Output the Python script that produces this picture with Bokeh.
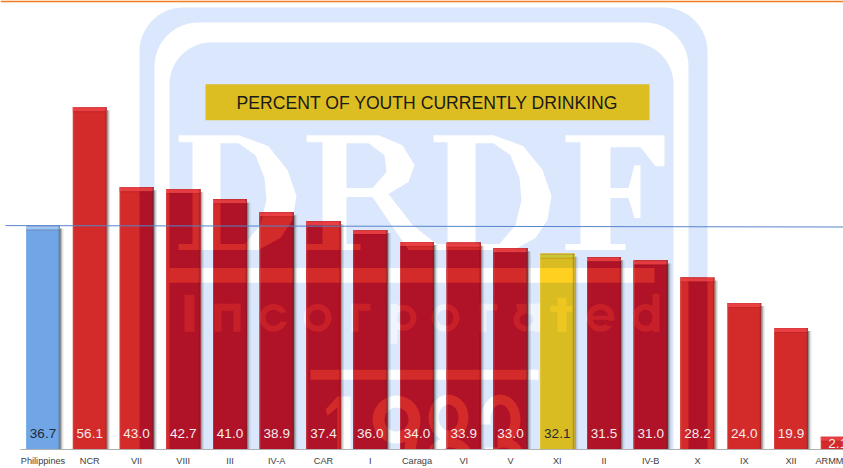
import numpy as np
from bokeh.plotting import figure
from bokeh.models import Range1d, FixedTicker, ColumnDataSource
from bokeh.core.properties import value
from bokeh.embed import file_html
from bokeh.resources import INLINE

# ---- data ----
regions = ["Philippines", "NCR", "VII", "VIII", "III", "IV-A", "CAR", "I", "Caraga",
           "VI", "V", "XI", "II", "IV-B", "X", "IX", "XII", "ARMM"]
percent = [36.7, 56.1, 43.0, 42.7, 41.0, 38.9, 37.4, 36.0, 34.0,
           33.9, 33.0, 32.1, 31.5, 31.0, 28.2, 24.0, 19.9, 2.1]
national = 36.7
title = "PERCENT OF YOUTH CURRENTLY DRINKING"

# ---- pixel <-> data helpers (used for decoration only) ----
W, H, BASE = 843, 468, 450
X0, DX, SY = 42.5, 46.75, 6.114
BAR_W = 34 / DX
def dx(px): return (np.asarray(px, float) - X0) / DX
def dy(py): return (BASE - np.asarray(py, float)) / SY

p = figure(width=W, height=H, output_backend="svg", toolbar_location=None,
           x_range=Range1d(dx(0), dx(W)), y_range=Range1d(0, BASE / SY),
           min_border_left=0, min_border_right=0, min_border_top=0, min_border_bottom=H - BASE,
           outline_line_color=None, background_fill_color="white", border_fill_color=None)
p.grid.visible = False
p.yaxis.visible = False
ax = p.xaxis[0]
ax.ticker = FixedTicker(ticks=list(range(len(regions))))
ax.major_label_overrides = {i: r for i, r in enumerate(regions)}
ax.major_tick_in = 0
ax.major_tick_out = 0
ax.minor_tick_in = 0
ax.minor_tick_out = 0
ax.axis_line_color = "#B0B0B0"
ax.axis_line_width = 1
ax.bounds = (float(dx(20)), float(dx(W)))
ax.major_label_standoff = 6
ax.major_label_text_font = "Liberation Sans"
ax.major_label_text_font_size = "9.2px"
ax.major_label_text_color = "#404040"

# ---- watermark geometry (pixel polygons) ----
def rrect(x0, y0, x1, y1, r):
    t = np.linspace(0, np.pi / 2, 14)
    pts = [(x0 + r - r * np.cos(a), y0 + r - r * np.sin(a)) for a in t]
    pts += [(x1 - r + r * np.sin(a), y0 + r - r * np.cos(a)) for a in t]
    pts += [(x1, y1), (x0, y1)]
    return pts
def rect(x0, y0, x1, y1): return [(x0, y0), (x1, y0), (x1, y1), (x0, y1)]
def ell(cx, cy, rx, ry):
    t = np.linspace(0, 2 * np.pi, 28, endpoint=False)
    return [(cx + rx * np.cos(a), cy + ry * np.sin(a)) for a in t]

B, Wh, So = "blue", "white", "soft"
layers = [(rrect(139, 7, 707, 490, 44), B), (rrect(154, 22, 688, 490, 44), Wh),
          (rrect(169, 42, 673, 490, 42), B)]
def big_d(s, ox=0):
    return [([(178+ox, 135), (238+ox, 135), (268+ox, 146), (287+ox, 170), (296+ox, 196), (292+ox, 220),
              (280+ox, 238), (258+ox, 250), (178+ox, 250), (178+ox, 244), (192+ox, 244), (192+ox, 142), (178+ox, 142)], Wh),
            ([(220+ox, 143), (238+ox, 143), (255+ox, 155), (264+ox, 178), (266+ox, 200), (260+ox, 225), (244+ox, 244), (220+ox, 244)], B)]
layers += big_d(0) + big_d(0, 255)
layers += [([(306, 135), (378, 135), (402, 145), (414, 165), (408, 182), (388, 194), (412, 225), (436, 244),
             (436, 250), (408, 250), (372, 197), (346, 197), (346, 244), (360, 244), (360, 250), (306, 250),
             (306, 244), (322, 244), (322, 142), (306, 142)], Wh),
           ([(346, 143), (368, 143), (384, 155), (386, 172), (372, 188), (346, 188)], B)]
layers += [([(565, 135), (664, 135), (664, 166), (655, 166), (640, 147), (610, 147), (610, 188), (628, 188), (634, 165),
             (640, 165), (640, 218), (634, 218), (628, 198), (610, 198), (610, 244), (625, 244), (625, 250), (565, 250),
             (565, 244), (580, 244), (580, 142), (565, 142)], Wh)]
layers += [(rect(168, 268, 654, 283), Wh), (rect(310, 370, 538, 380), Wh)]
# "Incorporated"
def ring(cx, cy, rx, ry, t): return [(ell(cx, cy, rx, ry), So), (ell(cx, cy, rx - t, ry - t), B)]
inc = [(rect(184, 295, 194, 332), So)]
inc += [(rect(214, 304, 221, 332), So), (rect(214, 304, 240, 311), So), (rect(233, 304, 240, 332), So)]
inc += ring(273, 318, 14, 14, 6) + [(rect(280, 313, 290, 322), B)]
inc += ring(317, 318, 14, 14, 6)
inc += [(rect(351, 304, 358, 332), So), (rect(351, 304, 370, 311), So)]
inc += ring(403, 318, 13, 13, 6) + [(rect(390, 304, 397, 344), So)]
inc += ring(445, 318, 14, 14, 6)
inc += [(rect(479, 304, 486, 332), So), (rect(479, 304, 497, 311), So)]
inc += ring(526, 320, 13, 12, 6) + [(rect(533, 304, 540, 332), So), (rect(516, 304, 540, 310), So)]
inc += [(rect(557, 298, 566, 332), So), (rect(550, 306, 572, 312), So)]
inc += ring(600, 318, 14, 14, 6) + [(rect(590, 316, 612, 320), So), (rect(606, 321, 616, 326), B)]
inc += ring(645, 318, 13, 14, 6) + [(rect(652, 294, 659, 332), So)]
layers += inc
# "1983"
def wring(cx, cy, rx, ry, t): return [(ell(cx, cy, rx, ry), Wh), (ell(cx, cy, rx - t, ry - t), B)]
year = [(rect(337, 397, 350, 458), Wh), ([(325, 410), (337, 397), (337, 408), (327, 416)], Wh), (rect(326, 455, 362, 462), Wh)]
year += wring(396, 420, 24, 24, 12) + [([(406, 428), (420, 422), (412, 468), (390, 468), (404, 450)], Wh)]
year += wring(448, 418, 20, 23, 10) + wring(449, 458, 23, 20, 10)
year += wring(500, 420, 20, 25, 10) + wring(503, 460, 21, 22, 10) + [(rect(478, 425, 497, 448), B), (rect(480, 452, 495, 470), B)]
layers += year

def clip(poly, x0, y0, x1, y1):
    """Sutherland-Hodgman clip of a pixel polygon against a rectangle."""
    def run(pts, inside, cross):
        out = []
        for i, a in enumerate(pts):
            b = pts[(i + 1) % len(pts)]
            if inside(a):
                out.append(a)
                if not inside(b): out.append(cross(a, b))
            elif inside(b):
                out.append(cross(a, b))
        return out
    def cx(v):
        return lambda a, b: (v, a[1] + (b[1] - a[1]) * (v - a[0]) / (b[0] - a[0]))
    def cy(v):
        return lambda a, b: (a[0] + (b[0] - a[0]) * (v - a[1]) / (b[1] - a[1]), v)
    pts = list(poly)
    for ins, cr in [(lambda q: q[0] >= x0, cx(x0)), (lambda q: q[0] <= x1, cx(x1)),
                    (lambda q: q[1] >= y0, cy(y0)), (lambda q: q[1] <= y1, cy(y1))]:
        if pts: pts = run(pts, ins, cr)
    return pts

# watermark on the page
WM = {B: "#DBE7FC", Wh: "#FFFFFF", So: "#F0F4FD"}
p.patches([list(dx([q[0] for q in l])) for l, _ in layers],
          [list(dy([q[1] for q in l])) for l, _ in layers],
          fill_color=[WM[k] for _, k in layers], line_color=None)

# ---- bars ----
xs = np.arange(len(regions), dtype=float)
vals = np.array(percent)
base_col = ["#70A6E6" if r == "Philippines" else "#FFD01F" if r == "XI" else "#D32A2A" for r in regions]
dark_col = ["#70A6E6" if r == "Philippines" else "#D9BC22" if r == "XI" else "#B01227" for r in regions]
soft_col = ["#70A6E6" if r == "Philippines" else "#EEC620" if r == "XI" else "#C82028" for r in regions]
bevel_col = ["#A4CDF6" if r == "Philippines" else "#C8C83A" if r == "XI" else "#EE4448" for r in regions]
px = 1 / DX
py = 1 / SY
# soft shadow right of each bar
for off, a in [(1.0, .45), (2.0, .3), (3.5, .15)]:
    p.quad(left=xs + BAR_W / 2, right=xs + BAR_W / 2 + off * px, bottom=0, top=vals - 3 * py,
           fill_color="#555555", fill_alpha=a, line_color=None)
p.vbar(x=xs, width=BAR_W, top=vals, bottom=0, fill_color=base_col, line_color=None)
# watermark seen through each bar
sx, sy, sc = [], [], []
for i, v in enumerate(vals):
    L, R = X0 + DX * i - 17, X0 + DX * i + 17
    T = BASE - v * SY
    for poly, k in layers:
        c = clip(poly, L, T, R, BASE)
        if len(c) >= 3:
            sx.append(list(dx([q[0] for q in c])))
            sy.append(list(dy([q[1] for q in c])))
            sc.append({B: dark_col[i], Wh: base_col[i], So: soft_col[i]}[k])
p.patches(sx, sy, fill_color=sc, line_color=None)
# bevels
p.quad(left=xs - BAR_W / 2, right=xs + BAR_W / 2, top=vals, bottom=vals - 4 * py,
       fill_color=bevel_col, fill_alpha=.85, line_color=None)
p.quad(left=xs - BAR_W / 2, right=xs + BAR_W / 2, top=vals, bottom=vals - 1 * py,
       fill_color="#A03030", fill_alpha=.25, line_color=None)
p.quad(left=xs - BAR_W / 2, right=xs + BAR_W / 2, top=vals - 4 * py, bottom=vals - 5 * py,
       fill_color="#701010", fill_alpha=.18, line_color=None)
p.quad(left=xs + BAR_W / 2 - 1.5 * px, right=xs + BAR_W / 2, top=vals, bottom=0,
       fill_color="#303030", fill_alpha=.28, line_color=None)
p.quad(left=xs - BAR_W / 2, right=xs - BAR_W / 2 + 1 * px, top=vals, bottom=0,
       fill_color="#FFFFFF", fill_alpha=.12, line_color=None)

# value labels
lab = ColumnDataSource(dict(x=xs, y=np.minimum(2.6, vals / 2),
                            t=[f"{v:.1f}" for v in percent],
                            c=["#1F2A3A" if r in ("Philippines", "XI") else "#F4ECEC" for r in regions]))
p.text("x", "y", text="t", source=lab, text_color="c", text_align="center", text_baseline="middle",
       text_font=value("Liberation Sans"), text_font_size="13.5px")

# national reference line
p.line([float(dx(5)), float(dx(W))], [national, national - 1.4 * py], line_color="#5585C8", line_width=1)
# top orange rule
p.line([float(dx(0)), float(dx(W))], [float(dy(0.9))] * 2, line_color="#F47B20", line_width=1.8)

# title box
p.quad(left=[float(dx(205))], right=[float(dx(649))], top=[float(dy(84))], bottom=[float(dy(120))],
       fill_color="#DDBE22", line_color=None)
p.text([float(dx(427))], [float(dy(102.5))], text=[title], text_color="#1A1A1A", text_align="center",
       text_baseline="middle", text_font=value("Liberation Sans"), text_font_size="17.6px")

open("out.html", "w").write(file_html(p, INLINE))
